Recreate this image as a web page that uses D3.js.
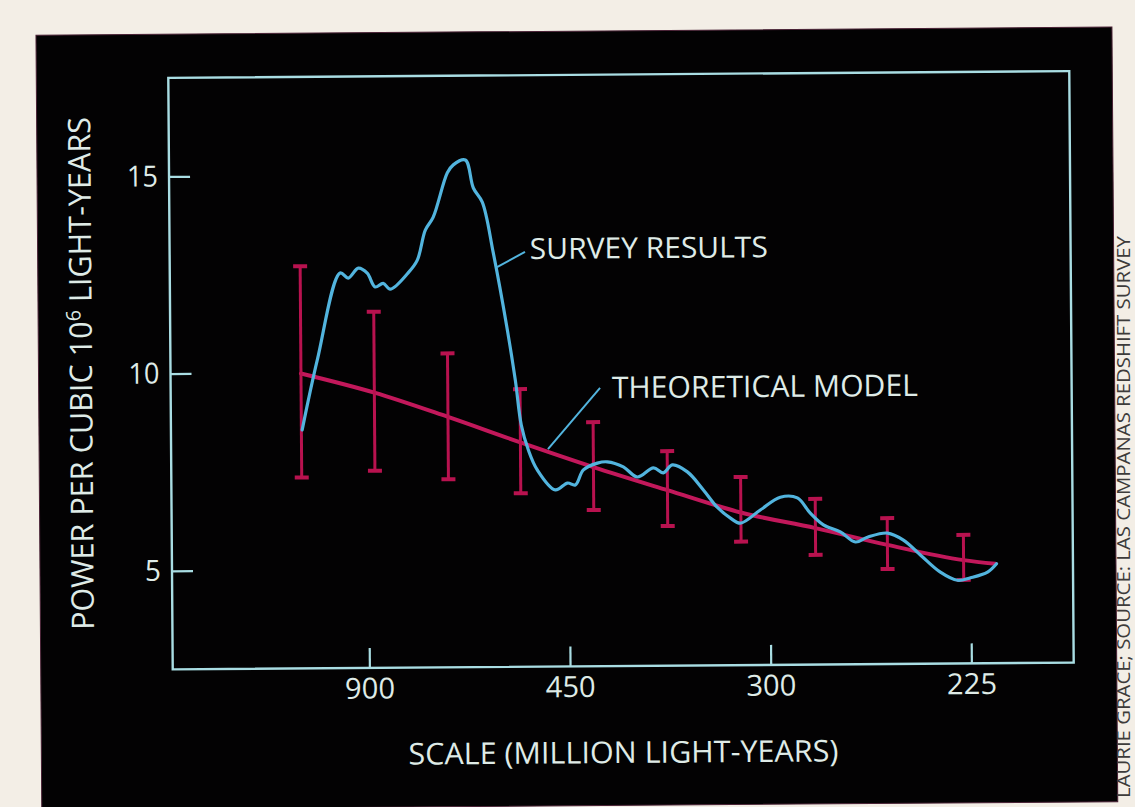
<!DOCTYPE html>
<html>
<head>
<meta charset="utf-8">
<script src="https://cdn.jsdelivr.net/npm/d3@7"></script>
<style>
  html, body { margin: 0; padding: 0; background: #f3eee6; }
  svg { display: block; }
  text { font-family: "Open Sans", "Noto Sans", sans-serif; }
</style>
</head>
<body>
<svg id="chart" width="1135" height="807"></svg>
<script>
// ---- data (x given as inverse scale: 900 Mly / scale) ----
const xTickLabels = [900, 450, 300, 225];          // scale, million light-years
const yTickValues = [5, 10, 15];

const surveyK = [0.674, 0.752, 0.869, 0.909, 0.960, 1.004, 1.043, 1.083, 1.118, 1.208,
  1.254, 1.295, 1.335, 1.407, 1.437, 1.497, 1.536, 1.580, 1.633, 1.700,
  1.738, 1.766, 1.800, 1.844, 1.933, 1.994, 2.033, 2.074, 2.144, 2.193,
  2.273, 2.343, 2.423, 2.472, 2.517, 2.592, 2.671, 2.739, 2.805, 2.854,
  2.954, 3.054, 3.139, 3.203, 3.268, 3.352, 3.427, 3.487, 3.587, 3.666,
  3.750, 3.849, 3.934, 3.999, 4.084, 4.129];
const surveyPower = [8.55, 10.32, 12.52, 12.39, 12.64, 12.51, 12.16, 12.25, 12.10, 12.51,
  12.83, 13.59, 13.92, 15.04, 15.24, 15.36, 14.65, 14.29, 13.00, 11.05,
  9.77, 8.63, 8.00, 7.49, 6.98, 7.15, 7.10, 7.48, 7.65, 7.68,
  7.55, 7.29, 7.52, 7.39, 7.59, 7.41, 6.95, 6.51, 6.23, 6.10,
  6.43, 6.75, 6.73, 6.34, 6.04, 5.86, 5.60, 5.72, 5.82, 5.64,
  5.26, 4.82, 4.61, 4.67, 4.81, 5.02];

const modelK     = [0.670, 1.035, 1.401, 1.761, 2.124, 2.492, 2.857, 3.228, 3.586, 3.965, 4.124];
const modelPower = [9.98, 9.48, 8.85, 8.19, 7.55, 6.95, 6.37, 5.96, 5.52, 5.12, 5.02];

const errK    = [0.670, 1.035, 1.401, 1.761, 2.124, 2.492, 2.857, 3.228, 3.586, 3.965];
const errHigh = [12.70, 11.53, 10.46, 9.54, 8.69, 7.94, 7.27, 6.70, 6.20, 5.76];
const errLow  = [7.34, 7.50, 7.27, 6.90, 6.46, 6.04, 5.63, 5.28, 4.91, 4.62];

const labelSurvey = "SURVEY RESULTS";
const labelModel = "THEORETICAL MODEL";
const xTitle = "SCALE (MILLION LIGHT-YEARS)";
const credit = "LAURIE GRACE; SOURCE: LAS CAMPANAS REDSHIFT SURVEY";

// ---- layout ----
const C = { text: "#dfebe7", frame: "#a9dde3", survey: "#52b4de", model: "#c2185b", err: "#b8124f" };
const F = { left: 170.5, right: 1071.5, top: 74.5, bottom: 666 };

const svg = d3.select("#chart");
const g = svg.append("g").attr("transform", "rotate(-0.43,621,370)");

// black panel
g.append("rect").attr("x", 38.5).attr("y", 30.8).attr("width", 1076).attr("height", 774.6)
  .attr("fill", "#030203").attr("stroke", "#4a2236").attr("stroke-width", 1);

const x = d3.scaleLinear().domain([0.02, 4.51]).range([F.left, F.right]);
const y = d3.scaleLinear().domain([2.5, 17.5]).range([F.bottom, F.top]);

// axes (ticks pointing inward)
const xAxis = d3.axisBottom(x)
  .tickValues(xTickLabels.map(s => 900 / s))
  .tickFormat((d, i) => String(xTickLabels[i]))
  .tickSize(-20).tickPadding(10);
const yAxis = d3.axisLeft(y).tickValues(yTickValues).tickFormat(d3.format("d"))
  .tickSize(-21).tickPadding(11);

const gx = g.append("g").attr("transform", `translate(0,${F.bottom})`).call(xAxis);
const gy = g.append("g").attr("transform", `translate(${F.left},0)`).call(yAxis);
[gx, gy].forEach(a => {
  a.select(".domain").remove();
  a.selectAll(".tick line").attr("stroke", C.frame).attr("stroke-width", 2.2);
  a.selectAll(".tick text").attr("fill", C.text).attr("font-size", 29)
    .attr("font-family", "'Open Sans', sans-serif");
});
gx.selectAll(".tick text").attr("textLength", 50).attr("lengthAdjust", "spacingAndGlyphs");
gy.selectAll(".tick text").each(function(d) {
  d3.select(this).attr("textLength", d < 10 ? 16 : 31).attr("lengthAdjust", "spacingAndGlyphs");
});

// frame
g.append("rect").attr("x", F.left).attr("y", F.top)
  .attr("width", F.right - F.left).attr("height", F.bottom - F.top)
  .attr("fill", "none").attr("stroke", C.frame).attr("stroke-width", 2.4);

// theoretical model line
const model = modelK.map((k, i) => ({ k, v: modelPower[i] }));
g.append("path").datum(model)
  .attr("d", d3.line().x(d => x(d.k)).y(d => y(d.v)).curve(d3.curveMonotoneX))
  .attr("fill", "none").attr("stroke", C.model).attr("stroke-width", 4).attr("stroke-linecap", "round");

// error bars
const errs = errK.map((k, i) => ({ k, lo: errLow[i], hi: errHigh[i] }));
const eb = g.append("g").selectAll("g").data(errs).join("g")
  .attr("stroke", C.err).attr("fill", "none");
eb.append("line").attr("x1", d => x(d.k)).attr("x2", d => x(d.k))
  .attr("y1", d => y(d.hi)).attr("y2", d => y(d.lo)).attr("stroke-width", 3);
eb.append("line").attr("x1", d => x(d.k) - 7).attr("x2", d => x(d.k) + 7)
  .attr("y1", d => y(d.hi)).attr("y2", d => y(d.hi)).attr("stroke-width", 4);
eb.append("line").attr("x1", d => x(d.k) - 7).attr("x2", d => x(d.k) + 7)
  .attr("y1", d => y(d.lo)).attr("y2", d => y(d.lo)).attr("stroke-width", 4);

// survey results curve
const survey = surveyK.map((k, i) => ({ k, v: surveyPower[i] }));
g.append("path").datum(survey)
  .attr("d", d3.line().x(d => x(d.k)).y(d => y(d.v)).curve(d3.curveCatmullRom.alpha(0.5)))
  .attr("fill", "none").attr("stroke", C.survey).attr("stroke-width", 3.2)
  .attr("stroke-linejoin", "round").attr("stroke-linecap", "round");

// annotations with leader lines
g.append("line").attr("x1", x(1.651)).attr("y1", y(12.64)).attr("x2", x(1.791)).attr("y2", y(13.02))
  .attr("stroke", C.survey).attr("stroke-width", 2);
g.append("text").attr("x", x(1.815)).attr("y", y(12.84)).text(labelSurvey)
  .attr("fill", C.text).attr("font-size", 29)
  .attr("textLength", 238).attr("lengthAdjust", "spacingAndGlyphs");

g.append("line").attr("x1", x(2.160)).attr("y1", y(9.555)).attr("x2", x(1.898)).attr("y2", y(8.015))
  .attr("stroke", C.survey).attr("stroke-width", 2);
g.append("text").attr("x", x(2.219)).attr("y", y(9.294)).text(labelModel)
  .attr("fill", C.text).attr("font-size", 30)
  .attr("textLength", 306).attr("lengthAdjust", "spacingAndGlyphs");

// axis titles
g.append("text").attr("x", 620.5).attr("y", 763).attr("text-anchor", "middle")
  .text(xTitle).attr("fill", C.text).attr("font-size", 30)
  .attr("textLength", 430).attr("lengthAdjust", "spacingAndGlyphs");

const yt = g.append("text").attr("transform", "translate(92,369.4) rotate(-90)")
  .attr("text-anchor", "middle").attr("fill", C.text).attr("font-size", 31)
  .attr("textLength", 513).attr("lengthAdjust", "spacingAndGlyphs");
yt.append("tspan").text("POWER PER CUBIC 10");
yt.append("tspan").text("6").attr("font-size", 20).attr("dy", -11);
yt.append("tspan").text(" LIGHT-YEARS").attr("dy", 11);

// credit line on the page margin
svg.append("text").attr("transform", "translate(1130,798) rotate(-90)")
  .text(credit).attr("fill", "#3d3b3a").attr("font-size", 18)
  .attr("textLength", 562).attr("lengthAdjust", "spacingAndGlyphs");
</script>
</body>
</html>
